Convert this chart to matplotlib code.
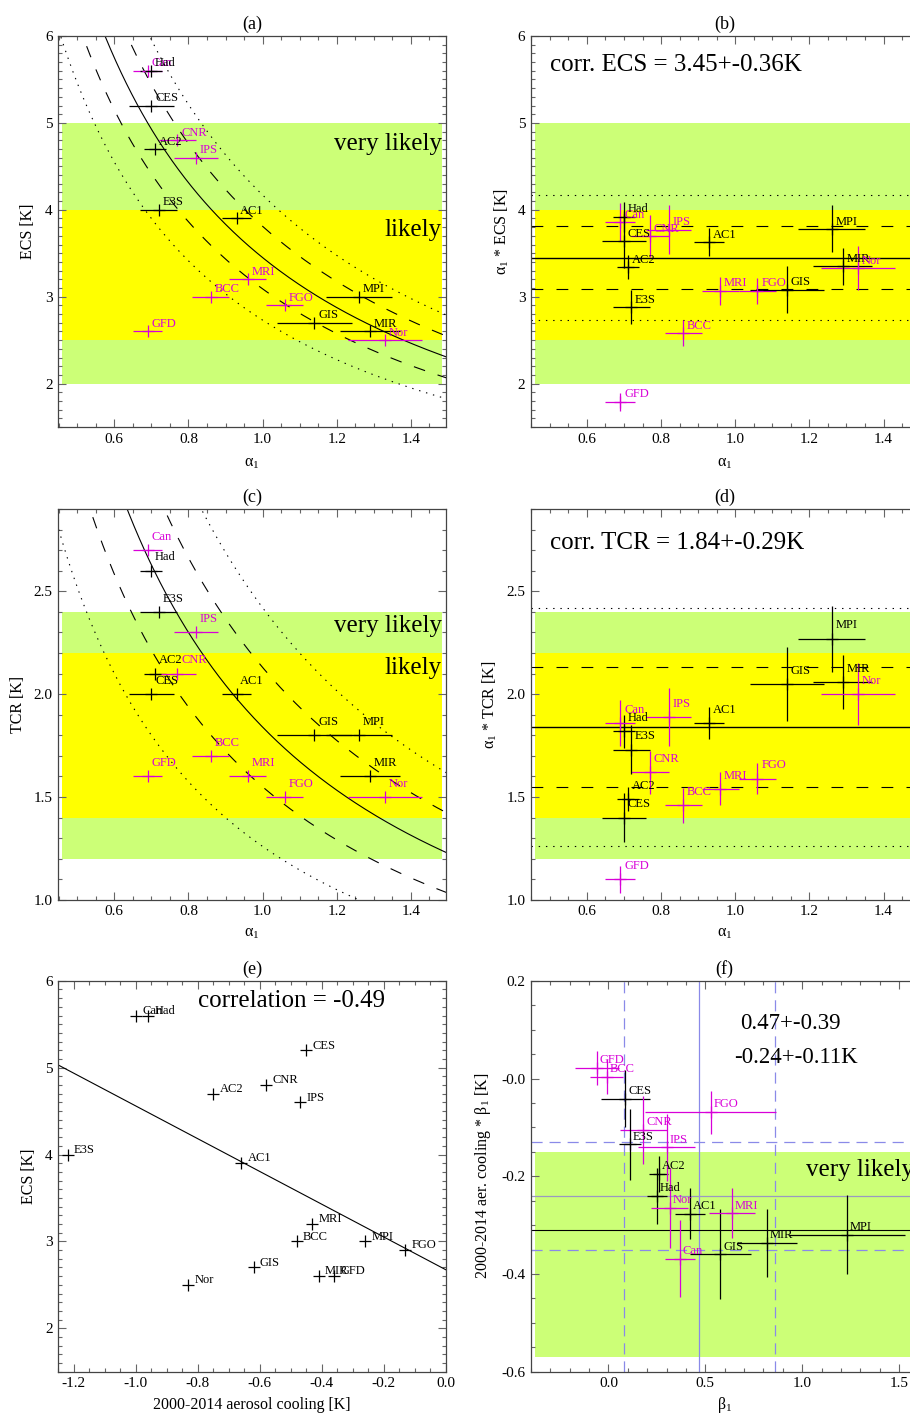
import numpy as np
import matplotlib
matplotlib.use('Agg')
from matplotlib import pyplot as plt
from matplotlib import transforms
from matplotlib.ticker import FixedLocator, MultipleLocator, FormatStrFormatter

plt.rcParams['font.family'] = ['Liberation Serif', 'DejaVu Serif']
plt.rcParams['mathtext.fontset'] = 'custom'
plt.rcParams['mathtext.rm'] = 'Liberation Serif'
plt.rcParams['mathtext.it'] = 'Liberation Serif:italic'
plt.rcParams['axes.unicode_minus'] = False
plt.rcParams['lines.scale_dashes'] = False

# --- data ---
models = ['AC1', 'AC2', 'BCC', 'Can', 'CES', 'CNR', 'E3S', 'FGO',
          'GFD', 'GIS', 'Had', 'IPS', 'MIR', 'MPI', 'MRI', 'Nor']
magenta_models = ['BCC', 'Can', 'CNR', 'FGO', 'GFD', 'IPS', 'MRI', 'Nor']

alpha1 = [0.93, 0.71, 0.86, 0.69, 0.70, 0.77, 0.72, 1.06,
          0.69, 1.14, 0.70, 0.82, 1.29, 1.26, 0.96, 1.33]
alpha1_err = [0.04, 0.03, 0.05, 0.04, 0.06, 0.05, 0.05, 0.05,
              0.04, 0.10, 0.03, 0.06, 0.08, 0.09, 0.05, 0.10]
ecs = [3.9, 4.7, 3.0, 5.6, 5.2, 4.8, 4.0, 2.9,
       2.6, 2.7, 5.6, 4.6, 2.6, 3.0, 3.2, 2.5]
tcr = [2.0, 2.1, 1.7, 2.7, 2.0, 2.1, 2.4, 1.5,
       1.6, 1.8, 2.6, 2.3, 1.6, 1.8, 1.6, 1.5]
alpha_ecs = [3.63, 3.34, 2.58, 3.86, 3.64, 3.70, 2.88, 3.07,
             1.79, 3.08, 3.92, 3.77, 3.35, 3.78, 3.07, 3.33]
alpha_ecs_err = [0.16, 0.14, 0.15, 0.22, 0.31, 0.24, 0.20, 0.15,
                 0.10, 0.27, 0.17, 0.28, 0.21, 0.27, 0.16, 0.25]
alpha_tcr = [1.86, 1.49, 1.46, 1.86, 1.40, 1.62, 1.73, 1.59,
             1.10, 2.05, 1.82, 1.89, 2.06, 2.27, 1.54, 2.00]
alpha_tcr_err = [0.08, 0.06, 0.085, 0.11, 0.12, 0.105, 0.12, 0.075,
                 0.065, 0.18, 0.08, 0.14, 0.13, 0.16, 0.08, 0.15]
aer_cooling = [-0.66, -0.75, -0.48, -1.00, -0.45, -0.58, -1.22, -0.13,
               -0.36, -0.62, -0.96, -0.47, -0.41, -0.26, -0.43, -0.83]
beta1 = [0.42, 0.26, -0.01, 0.37, 0.087, 0.18, 0.11, 0.528,
         -0.06, 0.578, 0.25, 0.30, 0.818, 1.23, 0.638, 0.317]
beta1_err = [0.077, 0.049, 0.087, 0.079, 0.126, 0.12, 0.057, 0.337,
             0.113, 0.159, 0.05, 0.146, 0.154, 0.30, 0.119, 0.095]
aer_beta = [-0.277, -0.195, 0.004, -0.369, -0.041, -0.105, -0.135, -0.069,
            0.022, -0.36, -0.24, -0.141, -0.337, -0.32, -0.276, -0.265]
aer_beta_err = [0.052, 0.037, 0.036, 0.079, 0.058, 0.07, 0.073, 0.044,
                0.035, 0.092, 0.057, 0.068, 0.069, 0.081, 0.051, 0.082]

corr_ecs, corr_ecs_sd = 3.45, 0.36
corr_tcr, corr_tcr_sd = 1.84, 0.29
beta_mean, beta_sd = 0.47, 0.39
aer_mean, aer_sd = -0.24, 0.11
f_black_level = -0.31
e_correlation = -0.49

ecs_likely, ecs_very_likely = (2.5, 4.0), (2.0, 5.0)
tcr_likely, tcr_very_likely = (1.4, 2.2), (1.2, 2.4)
f_very_likely = (-0.57, -0.15)

alpha_ticks = [0.6, 0.8, 1.0, 1.2, 1.4]
ecs_ticks = [2, 3, 4, 5, 6]
tcr_ticks = [1.0, 1.5, 2.0, 2.5]
aer_ticks = [-1.2, -1.0, -0.8, -0.6, -0.4, -0.2, 0.0]
beta_ticks = [0.0, 0.5, 1.0, 1.5]
f_yticks = [-0.6, -0.4, -0.2, 0.0, 0.2]
f_yticklabels = ['-0.6', '-0.4', '-0.2', '-0.0', '0.2']

GREEN = '#ccff77'
YELLOW = '#ffff00'
MAGENTA = '#d800d8'
BLUE = '#8a8ae8'
DASH = (0, (8.5, 9.5))
DOT = (0, (1.0, 4.2))
BDASH = (0, (8.0, 5.0))

colors = [MAGENTA if m in magenta_models else 'black' for m in models]


def frame(ax, xlim, ylim, xticks, xminor, yticks, yminor, xfmt, yfmt):
    ax.set_xlim(xlim)
    ax.set_ylim(ylim)
    ax.xaxis.set_major_locator(FixedLocator(xticks))
    ax.xaxis.set_minor_locator(MultipleLocator(xminor))
    ax.yaxis.set_major_locator(FixedLocator(yticks))
    ax.yaxis.set_minor_locator(MultipleLocator(yminor))
    ax.xaxis.set_major_formatter(FormatStrFormatter(xfmt))
    ax.yaxis.set_major_formatter(FormatStrFormatter(yfmt))
    ax.tick_params(which='both', direction='in', top=True, right=True,
                   color='#666666', width=0.8, labelsize=11)
    ax.tick_params(which='major', length=6, pad=4)
    ax.tick_params(which='minor', length=3)
    for s in ax.spines.values():
        s.set_color('#444444')
        s.set_linewidth(0.9)


def bands(ax, outer, inner=None):
    ax.axhspan(outer[0], outer[1], xmin=0.01, xmax=0.99, color=GREEN, lw=0, zorder=0.5)
    if inner is not None:
        ax.axhspan(inner[0], inner[1], xmin=0.01, xmax=0.99, color=YELLOW, lw=0, zorder=0.6)


def band_text(ax, y, s, size=18):
    tr = transforms.blended_transform_factory(ax.transAxes, ax.transData)
    ax.text(0.99, y, s, transform=tr, ha='right', va='baseline', fontsize=size, zorder=5)


def crosses(ax, xs, ys, xerr, yerr, dx, dy):
    for i, name in enumerate(models):
        ax.errorbar(xs[i], ys[i], xerr=xerr[i] if xerr else None,
                    yerr=yerr[i] if yerr else None, fmt='+', ms=8.6, mew=0.9,
                    elinewidth=0.9, capsize=0, color=colors[i], zorder=3)
        ax.text(xs[i] + dx, ys[i] + dy, name, color=colors[i], fontsize=9,
                ha='left', va='baseline', zorder=4)


def labels(ax, title, xlabel, ylabel, xl_y, yl_x):
    ax.set_title(title, fontsize=13, pad=5)
    ax.set_xlabel(xlabel, fontsize=11.5, va='center')
    ax.set_ylabel(ylabel, fontsize=11.5, va='center')
    ax.xaxis.set_label_coords(0.5, xl_y)
    ax.yaxis.set_label_coords(yl_x, 0.5)


fig = plt.figure(figsize=(9.1, 14.13), dpi=100)
L1, L2, W, H = 0.0641, 0.5835, 0.4257, 0.2767
rows = [0.6978, 0.3631, 0.0292]

alpha_line = np.linspace(0.45, 1.5, 300)
a_label = r'$\mathrm{\alpha}_1$'

# (a)
ax = fig.add_axes([L1, rows[0], W, H])
frame(ax, (0.449, 1.494), (1.5, 6.0), alpha_ticks, 0.05, ecs_ticks, 0.1, '%.1f', '%d')
bands(ax, ecs_very_likely, ecs_likely)
ax.plot(alpha_line, corr_ecs / alpha_line, color='black', lw=0.8, zorder=2)
for k, ls in [(1, DASH), (2, DOT)]:
    for sgn in (-1, 1):
        ax.plot(alpha_line, (corr_ecs + sgn * k * corr_ecs_sd) / alpha_line,
                color='black', lw=0.8, ls=ls, zorder=2)
crosses(ax, alpha1, ecs, alpha1_err, None, 0.01, 0.05)
band_text(ax, 4.69, 'very likely')
band_text(ax, 3.70, 'likely')
labels(ax, '(a)', a_label, 'ECS [K]', -0.092, -0.078)

# (b)
ax = fig.add_axes([L2, rows[0], W, H])
frame(ax, (0.449, 1.494), (1.5, 6.0), alpha_ticks, 0.05, ecs_ticks, 0.1, '%.1f', '%d')
bands(ax, ecs_very_likely, ecs_likely)
ax.axhline(corr_ecs, color='black', lw=1.0, zorder=2)
for k, ls in [(1, DASH), (2, DOT)]:
    for sgn in (-1, 1):
        ax.axhline(corr_ecs + sgn * k * corr_ecs_sd, color='black', lw=0.8, ls=ls, zorder=2)
crosses(ax, alpha1, alpha_ecs, alpha1_err, alpha_ecs_err, 0.01, 0.05)
ax.text(0.049, 0.911, 'corr. ECS = %.2f+-%.2fK' % (corr_ecs, corr_ecs_sd),
        transform=ax.transAxes, fontsize=18, va='baseline')
labels(ax, '(b)', a_label, a_label + ' * ECS [K]', -0.092, -0.0755)

# (c)
ax = fig.add_axes([L1, rows[1], W, H])
frame(ax, (0.449, 1.494), (1.0, 2.9), alpha_ticks, 0.05, tcr_ticks, 0.1, '%.1f', '%.1f')
bands(ax, tcr_very_likely, tcr_likely)
ax.plot(alpha_line, corr_tcr / alpha_line, color='black', lw=0.8, zorder=2)
for k, ls in [(1, DASH), (2, DOT)]:
    for sgn in (-1, 1):
        ax.plot(alpha_line, (corr_tcr + sgn * k * corr_tcr_sd) / alpha_line,
                color='black', lw=0.8, ls=ls, zorder=2)
crosses(ax, alpha1, tcr, alpha1_err, None, 0.01, 0.05)
band_text(ax, 2.30, 'very likely')
band_text(ax, 2.10, 'likely')
labels(ax, '(c)', a_label, 'TCR [K]', -0.084, -0.103)

# (d)
ax = fig.add_axes([L2, rows[1], W, H])
frame(ax, (0.449, 1.494), (1.0, 2.9), alpha_ticks, 0.05, tcr_ticks, 0.1, '%.1f', '%.1f')
bands(ax, tcr_very_likely, tcr_likely)
ax.axhline(corr_tcr, color='black', lw=1.0, zorder=2)
for k, ls in [(1, DASH), (2, DOT)]:
    for sgn in (-1, 1):
        ax.axhline(corr_tcr + sgn * k * corr_tcr_sd, color='black', lw=0.8, ls=ls, zorder=2)
crosses(ax, alpha1, alpha_tcr, alpha1_err, alpha_tcr_err, 0.01, 0.05)
ax.text(0.049, 0.898, 'corr. TCR = %.2f+-%.2fK' % (corr_tcr, corr_tcr_sd),
        transform=ax.transAxes, fontsize=18, va='baseline')
labels(ax, '(d)', a_label, a_label + ' * TCR [K]', -0.084, -0.106)

# (e)
ax = fig.add_axes([L1, rows[2], W, H])
frame(ax, (-1.25, 0.0), (1.5, 6.0), aer_ticks, 0.05, ecs_ticks, 0.1, '%.1f', '%d')
slope, icpt = np.polyfit(aer_cooling, ecs, 1)
xl = np.array([-1.25, 0.0])
ax.plot(xl, icpt + slope * xl, color='black', lw=0.8, zorder=2)
ax.plot(aer_cooling, ecs, '+', color='black', ms=8.6, mew=0.9, zorder=3)
for i, name in enumerate(models):
    ax.text(aer_cooling[i] + 0.02, ecs[i] + 0.02, name, fontsize=9, va='baseline')
ax.text(0.361, 0.933, 'correlation = %.2f' % e_correlation, transform=ax.transAxes,
        fontsize=18, va='baseline')
labels(ax, '(e)', '2000-2014 aerosol cooling [K]', 'ECS [K]', -0.085, -0.077)

# (f)
ax = fig.add_axes([L2, rows[2], W, H])
frame(ax, (-0.4, 1.6), (-0.6, 0.2), beta_ticks, 0.1, f_yticks, 0.05, '%.1f', '%.1f')
ax.set_yticklabels(f_yticklabels)
bands(ax, f_very_likely)
ax.axvline(beta_mean, color=BLUE, lw=0.9, zorder=2)
ax.axvline(beta_mean - beta_sd, color=BLUE, lw=0.9, ls=BDASH, zorder=2)
ax.axvline(beta_mean + beta_sd, color=BLUE, lw=0.9, ls=BDASH, zorder=2)
ax.axhline(aer_mean, color='#9a9ac0', lw=0.9, zorder=2)
ax.axhline(aer_mean - aer_sd, color=BLUE, lw=0.9, ls=BDASH, zorder=2)
ax.axhline(aer_mean + aer_sd, color=BLUE, lw=0.9, ls=BDASH, zorder=2)
ax.axhline(f_black_level, color='black', lw=0.8, zorder=2)
crosses(ax, beta1, aer_beta, beta1_err, aer_beta_err, 0.014, 0.01)
ax.text(0.540, 0.876, '%.2f+-%.2f' % (beta_mean, beta_sd), transform=ax.transAxes,
        fontsize=16.5, va='baseline')
ax.text(0.525, 0.789, '%.2f+-%.2fK' % (aer_mean, aer_sd), transform=ax.transAxes,
        fontsize=16.5, va='baseline')
band_text(ax, -0.20, 'very likely')
labels(ax, '(f)', r'$\mathrm{\beta}_1$', r'2000-2014 aer. cooling * $\mathrm{\beta}_1$ [K]',
       -0.085, -0.124)

fig.savefig('out.png', dpi=100)
